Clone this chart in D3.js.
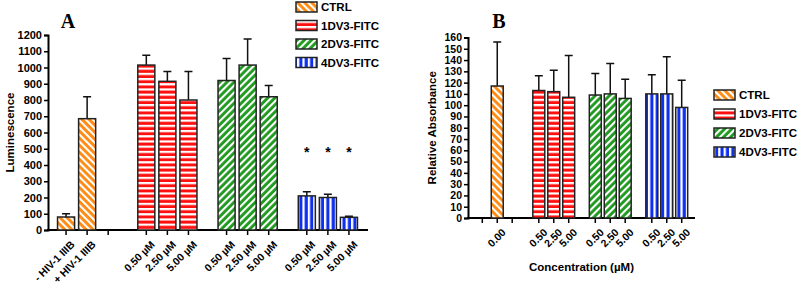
<!DOCTYPE html>
<html>
<head>
<meta charset="utf-8">
<script src="https://cdn.jsdelivr.net/npm/d3@7"></script>
<style>
  body { margin: 0; background: #fff; }
  text { font-family: Arial, "Liberation Sans", sans-serif; font-weight: bold; }
</style>
</head>
<body>
<div id="chart"></div>
<script>
// series and labels
const seriesNames = ["CTRL", "1DV3-FITC", "2DV3-FITC", "4DV3-FITC"];
const groupKeys = ["ctrl", "dv1", "dv2", "dv4"];
const concLabels = ["0.50", "2.50", "5.00"];

// panel A: luminescence (mean, upper error)
const aCtrlLabels = ["- HIV-1 IIIB", "+ HIV-1 IIIB", ""];
const aCtrlMean = [80, 685, null];
const aCtrlErr = [100, 820, null];
const aDv1Mean = [1015, 915, 800];
const aDv1Err = [1075, 975, 975];
const aDv2Mean = [920, 1015, 820];
const aDv2Err = [1055, 1175, 890];
const aDv4Mean = [210, 200, 78];
const aDv4Err = [235, 220, 85];
const aStars = [true, true, true];
const aTicks = d3.range(0, 1201, 100);

// panel B: relative absorbance
const bCtrlLabels = ["", "0.00", ""];
const bCtrlMean = [null, 117, null];
const bCtrlErr = [null, 156, null];
const bDv1Mean = [113, 112, 107];
const bDv1Err = [126, 131, 144];
const bDv2Mean = [109, 110, 106];
const bDv2Err = [128, 137, 123];
const bDv4Mean = [110, 110, 98];
const bDv4Err = [127, 143, 122];
const bTicks = d3.range(0, 161, 10);

const svg = d3.select("#chart").append("svg")
    .attr("width", 800).attr("height", 288);

// stripe patterns
const defs = svg.append("defs");
function stripe(id, color, angle, size) {
    const p = defs.append("pattern")
        .attr("id", id)
        .attr("patternUnits", "userSpaceOnUse")
        .attr("width", size).attr("height", size)
        .attr("patternTransform", "rotate(" + angle + ")");
    p.append("rect").attr("width", size).attr("height", size).attr("fill", color);
    p.append("rect").attr("width", size * 0.42).attr("height", size).attr("fill", "#fff");
}
stripe("p-ctrl", "#ff8a12", -45, 5);
stripe("p-dv1", "#ff1010", 90, 5.2);
stripe("p-dv2", "#1f9a1f", 45, 5);
stripe("p-dv4", "#1030f0", 0, 5.4);
const fills = {ctrl: "url(#p-ctrl)", dv1: "url(#p-dv1)", dv2: "url(#p-dv2)", dv4: "url(#p-dv4)"};

function buildRows(ctrlLabels, ctrlMean, ctrlErr, sets, memberLabels) {
    const rows = [];
    ctrlLabels.forEach((l, i) => rows.push({group: "ctrl", idx: i, label: l, mean: ctrlMean[i], err: ctrlErr[i]}));
    sets.forEach((s, gi) => {
        s.mean.forEach((m, i) => rows.push({group: groupKeys[gi + 1], idx: i, label: memberLabels[i], mean: m, err: s.err[i]}));
    });
    return rows;
}

function drawPanel(cfg) {
    const g = svg.append("g");
    const x0 = d3.scaleBand().domain(groupKeys).range(cfg.xRange).padding(0);
    const x1 = d3.scaleBand().domain([0, 1, 2]).range([0, x0.bandwidth()])
        .paddingInner(cfg.padIn).paddingOuter(cfg.padOut);
    const y = d3.scaleLinear().domain([0, cfg.yMax]).range(cfg.yRange);
    const cx = d => x0(d.group) + x1(d.idx) + x1.bandwidth() / 2;

    // y axis
    const yAxis = g.append("g")
        .attr("transform", "translate(" + cfg.xAxisStart + ",0)")
        .call(d3.axisLeft(y).tickValues(cfg.ticks).tickFormat(d3.format("d")).tickSize(4).tickPadding(2));
    yAxis.selectAll("text")
        .style("font-family", cfg.tickFont)
        .style("font-size", cfg.tickSize)
        .attr("fill", "#000");
    yAxis.select(".domain").attr("stroke-width", 2);
    yAxis.selectAll(".tick line").attr("stroke-width", 1.5);

    // x axis line
    g.append("line")
        .attr("x1", cfg.xAxisStart - 1).attr("x2", cfg.xRange[1])
        .attr("y1", y(0)).attr("y2", y(0))
        .attr("stroke", "#000").attr("stroke-width", 2);

    // x ticks + labels
    g.selectAll(".xt").data(cfg.rows).enter().append("line")
        .attr("x1", cx).attr("x2", cx)
        .attr("y1", y(0)).attr("y2", y(0) + 5)
        .attr("stroke", "#000").attr("stroke-width", 1.5);
    g.selectAll(".xl").data(cfg.rows.filter(d => d.label)).enter().append("text")
        .attr("transform", d => "translate(" + (cx(d) + 4) + "," + (y(0) + 10) + ") rotate(-45)")
        .attr("text-anchor", "end")
        .attr("dy", "0.7em")
        .style("font-size", "10.5px")
        .text(d => d.label);

    const bars = cfg.rows.filter(d => d.mean != null);
    // error bars
    g.selectAll(".eb").data(bars).enter().append("path")
        .attr("d", d => "M" + cx(d) + "," + y(d.mean) + "V" + y(d.err) +
            "M" + (cx(d) - 4) + "," + y(d.err) + "H" + (cx(d) + 4))
        .attr("fill", "none").attr("stroke", "#111").attr("stroke-width", 1.5);
    // bars
    g.selectAll(".bar").data(bars).enter().append("rect")
        .attr("x", d => x0(d.group) + x1(d.idx))
        .attr("width", x1.bandwidth())
        .attr("y", d => y(d.mean))
        .attr("height", d => y(0) - y(d.mean))
        .attr("fill", d => fills[d.group])
        .attr("stroke", "#222").attr("stroke-width", 1.5);

    if (cfg.stars) {
        g.selectAll(".star").data(cfg.rows.filter(d => d.group === "dv4" && cfg.stars[d.idx]))
            .enter().append("text")
            .attr("x", cx).attr("y", y(cfg.starAt))
            .attr("text-anchor", "middle")
            .style("font-size", "14px")
            .text("*");
    }

    // title letter
    g.append("text")
        .attr("x", cfg.titleX).attr("y", 28)
        .attr("text-anchor", "middle")
        .style("font-family", "'Liberation Serif', 'DejaVu Serif', serif")
        .style("font-size", "20px")
        .text(cfg.title);

    // y label
    g.append("text")
        .attr("transform", "translate(" + cfg.yLabelX + "," + ((cfg.yRange[0] + cfg.yRange[1]) / 2) + ") rotate(-90)")
        .attr("text-anchor", "middle")
        .style("font-size", "11.5px")
        .text(cfg.yLabel);

    if (cfg.xLabel) {
        g.append("text")
            .attr("x", (cfg.xAxisStart + cfg.xRange[1]) / 2).attr("y", 271)
            .attr("text-anchor", "middle")
            .style("font-size", "11.5px")
            .text(cfg.xLabel);
    }

    // legend
    const lg = g.append("g");
    seriesNames.forEach((name, i) => {
        const ly = cfg.legendY + i * cfg.legendStep;
        lg.append("rect")
            .attr("x", cfg.legendX).attr("y", ly - 5)
            .attr("width", 21).attr("height", 10)
            .attr("fill", fills[groupKeys[i]])
            .attr("stroke", "#222").attr("stroke-width", 1.5);
        lg.append("text")
            .attr("x", cfg.legendX + 25).attr("y", ly)
            .attr("dy", "0.36em")
            .style("font-size", "11.5px")
            .text(name);
    });
}

const memberA = concLabels.map(c => c + " \u00b5M");
drawPanel({
    rows: buildRows(aCtrlLabels, aCtrlMean, aCtrlErr, [
        {mean: aDv1Mean, err: aDv1Err},
        {mean: aDv2Mean, err: aDv2Err},
        {mean: aDv4Mean, err: aDv4Err}], memberA),
    xRange: [47, 368], xAxisStart: 48,
    padIn: 0.19, padOut: 0.5,
    yMax: 1200, yRange: [230, 35], ticks: aTicks,
    tickFont: "'Liberation Sans Narrow', Arial, sans-serif", tickSize: "11px",
    stars: aStars, starAt: 450,
    title: "A", titleX: 68,
    yLabel: "Luminescence", yLabelX: 14,
    legendX: 296, legendY: 7, legendStep: 18.5
});

drawPanel({
    rows: buildRows(bCtrlLabels, bCtrlMean, bCtrlErr, [
        {mean: bDv1Mean, err: bDv1Err},
        {mean: bDv2Mean, err: bDv2Err},
        {mean: bDv4Mean, err: bDv4Err}], concLabels),
    xRange: [469, 695], xAxisStart: 468,
    padIn: 0.2, padOut: 0.49,
    yMax: 160, yRange: [218, 37.5], ticks: bTicks,
    tickFont: "Arial, sans-serif", tickSize: "10.5px",
    title: "B", titleX: 499,
    yLabel: "Relative Absorbance", yLabelX: 436,
    xLabel: "Concentration (\u00b5M)",
    legendX: 714, legendY: 95, legendStep: 19
});
</script>
</body>
</html>
